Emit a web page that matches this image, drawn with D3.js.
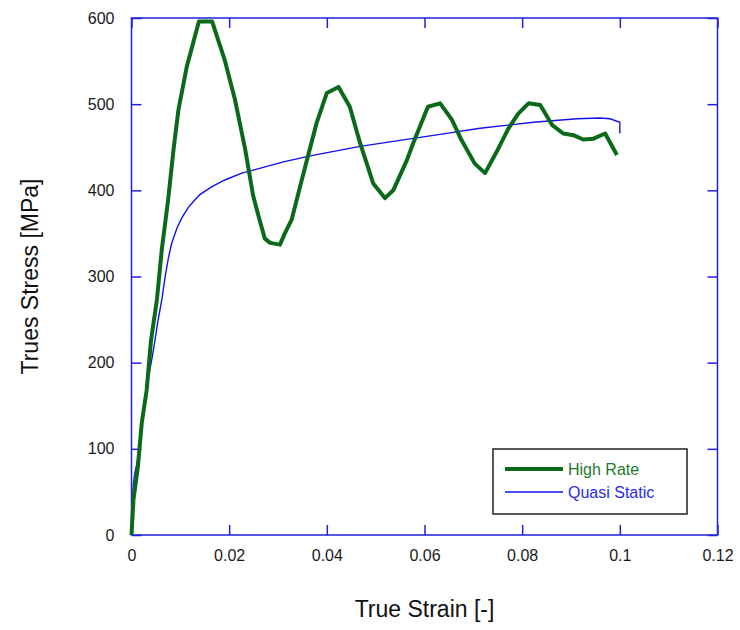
<!DOCTYPE html>
<meta charset="utf-8">
<style>
  body { margin: 0; background: #fff; font-family: Arial, "Liberation Sans", sans-serif; }
  .tick text { font-size: 16px; fill: #1a1a1a; }
</style>
<body>
<script src="https://d3js.org/d3.v7.min.js"></script>
<script>

// High Rate series: strain, stress (MPa)
var highStrain = [0, 0.0004, 0.0013, 0.0021, 0.0031, 0.0040, 0.0052, 0.0062, 0.0075, 0.0086, 0.0096, 0.0113,
  0.0138, 0.0165, 0.0191, 0.0212, 0.0233, 0.0249, 0.0263, 0.0273, 0.0284, 0.0304, 0.0314, 0.0328,
  0.0345, 0.0361, 0.0379, 0.0400, 0.0424, 0.0447, 0.0468, 0.0495, 0.0519, 0.0536, 0.0564, 0.0577, 0.0607,
  0.0632, 0.0656, 0.0676, 0.0703, 0.0724, 0.0748, 0.0772, 0.0792, 0.0813, 0.0837, 0.0861, 0.0884, 0.0905,
  0.0925, 0.0946, 0.0970, 0.0994];
var highStress = [0, 41, 79, 130, 168, 226, 273, 331, 389, 447, 493, 543,
  596, 596, 551, 505, 447, 394, 364, 344, 339, 337, 350, 366,
  404, 439, 478, 513, 520, 497, 455, 408, 391, 400, 435, 455, 497,
  501, 482, 458, 431, 420, 445, 472, 489, 501, 499, 476, 466, 464,
  459, 460, 466, 441];

// Quasi Static series
var quasiStrain = [0, 0.0002, 0.0004, 0.0007, 0.0014, 0.0021, 0.0028, 0.0034, 0.0045, 0.0054, 0.0062, 0.0069,
  0.0075, 0.0082, 0.0093, 0.0103, 0.0116, 0.0130, 0.0140, 0.0164, 0.0191, 0.0226, 0.0253, 0.0311,
  0.0366, 0.0468, 0.0550, 0.0632, 0.0714, 0.0823, 0.0912, 0.0959, 0.0980, 0.1000, 0.1000];
var quasiStress = [0, 40, 60, 72, 91, 130, 153, 180, 215, 248, 273, 300,
  320, 338, 356, 368, 380, 389, 395, 404, 412, 420, 424, 433,
  440, 451, 458, 465, 472, 479, 483, 484, 483, 479, 466];

var xTicks = [0, 0.02, 0.04, 0.06, 0.08, 0.1, 0.12];
var yTicks = [0, 100, 200, 300, 400, 500, 600];
var seriesNames = ["High Rate", "Quasi Static"];
var seriesColors = ["#0b6a1a", "#1010f0"];

var frameColor = "#2020e0";
var width = 740, height = 630;
var plot = {left: 131.5, right: 717.5, top: 18, bottom: 535};

var svg = d3.select("body").append("svg")
    .attr("width", width)
    .attr("height", height);

var x = d3.scaleLinear().domain([0, 0.12]).range([plot.left, plot.right]);
var y = d3.scaleLinear().domain([0, 600]).range([plot.bottom, plot.top]);

var fmt = function(d) { return d3.format("")(+d.toFixed(2)); };

// bottom axis
svg.append("g")
    .attr("transform", "translate(0," + plot.bottom + ")")
    .call(d3.axisBottom(x).tickValues(xTicks).tickSizeInner(-10).tickSizeOuter(0).tickPadding(15).tickFormat(fmt));
// top axis (ticks only)
svg.append("g")
    .attr("transform", "translate(0," + plot.top + ")")
    .call(d3.axisTop(x).tickValues(xTicks).tickSizeInner(-10).tickSizeOuter(0).tickFormat(""));
// left axis
svg.append("g")
    .attr("transform", "translate(" + plot.left + ",0)")
    .call(d3.axisLeft(y).tickValues(yTicks).tickSizeInner(-10).tickSizeOuter(0).tickPadding(17));
// right axis (ticks only)
svg.append("g")
    .attr("transform", "translate(" + plot.right + ",0)")
    .call(d3.axisRight(y).tickValues(yTicks).tickSizeInner(-10).tickSizeOuter(0).tickFormat(""));

svg.selectAll(".domain").remove();
svg.selectAll(".tick line").attr("stroke", frameColor).attr("stroke-width", 1.5);
svg.selectAll(".tick text").attr("font-family", "Arial, 'Liberation Sans', sans-serif");

svg.append("rect")
    .attr("x", plot.left).attr("y", plot.top)
    .attr("width", plot.right - plot.left).attr("height", plot.bottom - plot.top)
    .attr("fill", "none").attr("stroke", frameColor).attr("stroke-width", 1.5);

var line = d3.line()
    .x(function(d) { return x(d[0]); })
    .y(function(d) { return y(d[1]); });

svg.append("path")
    .datum(d3.zip(quasiStrain, quasiStress))
    .attr("d", line)
    .attr("fill", "none")
    .attr("stroke", seriesColors[1])
    .attr("stroke-width", 1.4);

svg.append("path")
    .datum(d3.zip(highStrain, highStress))
    .attr("d", line)
    .attr("fill", "none")
    .attr("stroke", seriesColors[0])
    .attr("stroke-width", 4)
    .attr("stroke-linejoin", "round");

// axis titles
svg.append("text")
    .attr("x", (plot.left + plot.right) / 2)
    .attr("y", 617)
    .attr("text-anchor", "middle")
    .attr("font-size", 23)
    .attr("fill", "#111")
    .text("True Strain [-]");

svg.append("text")
    .attr("transform", "translate(38," + ((plot.top + plot.bottom) / 2) + ") rotate(-90)")
    .attr("text-anchor", "middle")
    .attr("font-size", 23)
    .attr("fill", "#111")
    .text("Trues Stress [MPa]");

// legend
var legend = svg.append("g");
legend.append("rect")
    .attr("x", 493).attr("y", 449)
    .attr("width", 194).attr("height", 65)
    .attr("fill", "#fff").attr("stroke", "#222").attr("stroke-width", 1.5);

seriesNames.forEach(function(name, i) {
  var ly = 469 + i * 23;
  legend.append("line")
      .attr("x1", 505).attr("x2", 563)
      .attr("y1", ly).attr("y2", ly)
      .attr("stroke", seriesColors[i])
      .attr("stroke-width", i === 0 ? 4 : 1.4);
  legend.append("text")
      .attr("x", 568).attr("y", ly + 6)
      .attr("font-size", 16)
      .attr("fill", i === 0 ? "#1d7a2a" : "#2a2af0")
      .text(name);
});

</script>
</body>
